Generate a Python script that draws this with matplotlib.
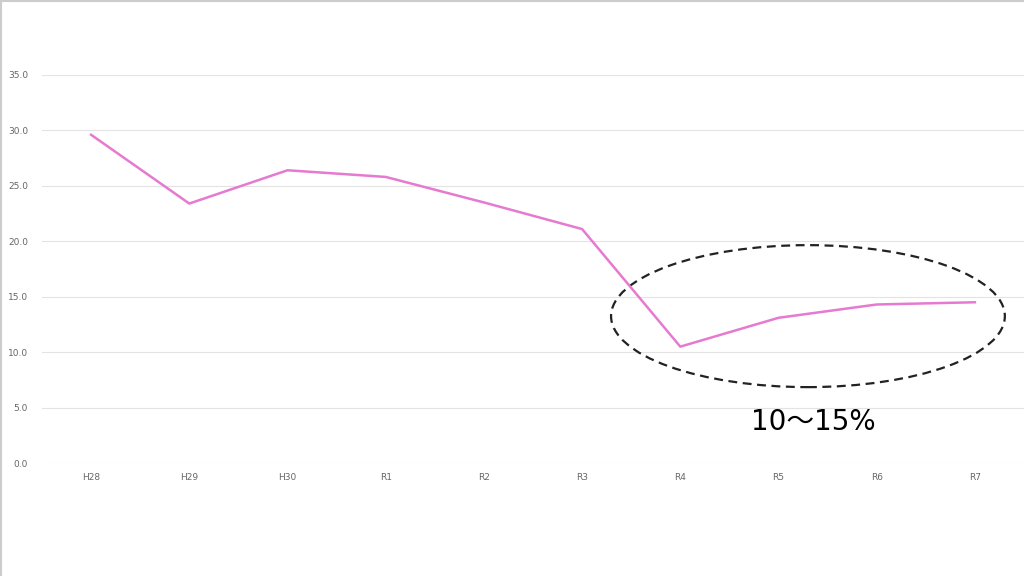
import matplotlib.pyplot as plt
from matplotlib.patches import Ellipse
from matplotlib.lines import Line2D

# 年度ごとの値
years = ['H28', 'H29', 'H30', 'R1', 'R2', 'R3', 'R4', 'R5', 'R6', 'R7']
values = [29.6, 23.4, 26.4, 25.8, 23.5, 21.1, 10.5, 13.1, 14.3, 14.5]
y_ticks = [0, 5, 10, 15, 20, 25, 30, 35]
note = '10～15%'

plt.rcParams['font.family'] = ['DejaVu Sans', 'Noto Sans CJK JP']

fig = plt.figure(figsize=(10.24, 5.76), dpi=100)
ax = fig.add_axes([0.041, 0.196, 0.959, 0.674])

x = list(range(len(years)))
ax.plot(x, values, color='#e57ad0', linewidth=1.8)

ax.set_xlim(-0.5, len(years) - 0.5)
ax.set_ylim(0, 35)
ax.set_xticks(x)
ax.set_xticklabels(years)
ax.set_yticks(y_ticks)
ax.set_yticklabels([f'{v:.1f}' for v in y_ticks])
ax.tick_params(length=0, labelsize=6.5, colors='#666666')
ax.tick_params(axis='x', pad=7)
ax.tick_params(axis='y', pad=10)
ax.grid(axis='y', color='#e3e3e3', linewidth=0.8)
ax.set_axisbelow(True)
for s in ax.spines.values():
    s.set_visible(False)

# 点線の楕円と注記
ax.add_patch(Ellipse((7.3, 13.25), 4.01, 12.8, fill=False, edgecolor='#222222',
                     linestyle=(0, (4, 2.5)), linewidth=1.6, clip_on=False))
ax.text(7.35, 3.7, note, fontsize=20, ha='center', va='center', color='black')

# 外枠（左と上）
fig.add_artist(Line2D([0.001, 0.001], [0, 1], color='#cccccc', linewidth=1.5))
fig.add_artist(Line2D([0, 1], [0.999, 0.999], color='#cccccc', linewidth=1.5))

fig.savefig('out.png', dpi=100)
